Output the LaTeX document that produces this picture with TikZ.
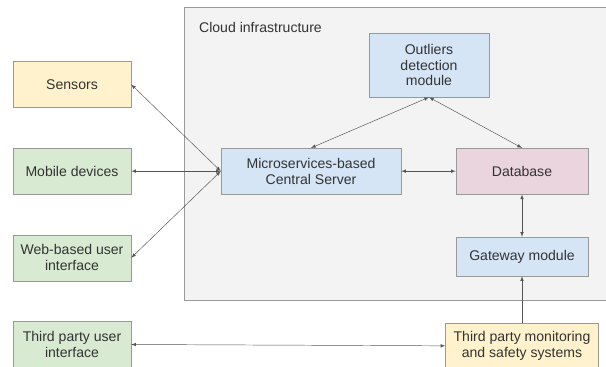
\documentclass[tikz,border=0pt]{standalone}
\usepackage{fontspec}
\setmainfont{Liberation Sans}
\usepackage{tikz}
\usetikzlibrary{arrows, positioning}
\definecolor{boxyellow}{HTML}{FFF2CC}
\definecolor{boxgreen}{HTML}{D9EAD3}
\definecolor{boxblue}{HTML}{D6E5F5}
\definecolor{boxpink}{HTML}{EAD5DF}
\definecolor{cloudgray}{HTML}{F3F3F3}
\definecolor{edgegray}{HTML}{999999}
\definecolor{linegray}{HTML}{555555}
\definecolor{textgray}{HTML}{333333}
\tikzstyle{Device} = [rectangle, 
                      minimum width=3.54cm, 
                      minimum height=1.38cm,
                      text centered,
                      align=center,
                      draw=edgegray, 
                      fill=boxgreen]
\tikzstyle{Module} = [rectangle, 
                      minimum width=3.96cm, 
                      minimum height=1.38cm,
                      text centered,
                      align=center,
                      draw=edgegray, 
                      fill=boxblue]
\tikzstyle{Cloud} = [draw=edgegray, 
                     fill=cloudgray]
\tikzstyle{Link} = [latex-latex, 
                    draw=linegray]

\begin{document}
\begin{tikzpicture}[font=\fontsize{12}{13.6}\selectfont, text=textgray, node distance=2.6cm]
        \useasboundingbox (0,0) rectangle (18.18,-11.01);
        \clip (0,0) rectangle (18.18,-11.01);

        % cloud part
        \draw [Cloud] (5.52,-0.21) rectangle (18.6,-9.0);
        \node (Cloud_Lbl) [anchor=west] at (5.85,-0.81) {Cloud infrastructure};

        % devices on the left
        \node (Sensors) [Device, fill=boxyellow] at (2.16,-2.535) {Sensors};
        \node (Mobile_Dev) [Device, below of=Sensors] {Mobile devices};
        \node (Web_UI) [Device, below of=Mobile_Dev] {Web-based user\\interface};
        \node (TP_UI) [Device, below of=Web_UI] {Third party user\\interface};

        % modules in the cloud
        \node (Central_Srv) [Module, minimum width=5.4cm, right of=Mobile_Dev, xshift=4.57cm] {Microservices-based\\Central Server};
        \node (Database) [Module, fill=boxpink, right of=Central_Srv, xshift=3.73cm] {Database};
        \node (Outliers) [Module, minimum width=3.6cm, minimum height=1.92cm] at (12.87,-1.95) {Outliers\\detection\\module};
        \node (Gateway) [Module, minimum height=1.17cm, below of=Database, yshift=0.04cm] {Gateway module};
        \node (TP_Mon) [Module, minimum width=4.59cm, fill=boxyellow, below of=Gateway, yshift=-0.08cm] {Third party monitoring\\and safety systems};

        \draw [Link] (Sensors.east) -- (Central_Srv.west);
        \draw [Link] (Mobile_Dev.east) -- (Central_Srv.west);
        \draw [Link] (Web_UI.east) -- (Central_Srv.west);
        \draw [Link] (Outliers.south) -- (Central_Srv.north);
        \draw [Link] (Outliers.south) -- (Database.north);
        \draw [Link] (Central_Srv.east) -- (Database.west);
        \draw [Link] (Database.south) -- (Gateway.north);
        \draw [Link, -latex] (TP_Mon.north) -- (Gateway.south);
        \draw [Link] (TP_UI.east) -- (TP_Mon.west);
    \end{tikzpicture}
\end{document}
